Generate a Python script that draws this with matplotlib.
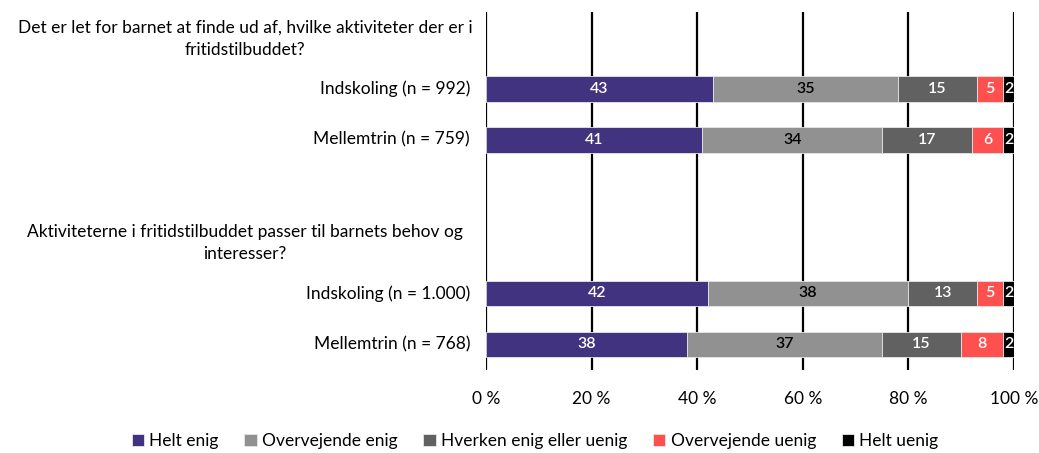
import numpy as np
import matplotlib.pyplot as plt

plt.rcParams['font.family'] = ['Lato', 'DejaVu Sans']

# questions and respondent groups
questions = ["Det er let for barnet at finde ud af, hvilke aktiviteter der er i\nfritidstilbuddet?",
             "Aktiviteterne i fritidstilbuddet passer til barnets behov og\ninteresser?"]
groups = ["Indskoling (n = 992)", "Mellemtrin (n = 759)",
          "Indskoling (n = 1.000)", "Mellemtrin (n = 768)"]

answers = ["Helt enig", "Overvejende enig", "Hverken enig eller uenig",
           "Overvejende uenig", "Helt uenig"]
helt_enig = [43, 41, 42, 38]
overvejende_enig = [35, 34, 38, 37]
hverken = [15, 17, 13, 15]
overvejende_uenig = [5, 6, 5, 8]
helt_uenig = [2, 2, 2, 2]

colors = ["#41337f", "#919191", "#616161", "#ff5050", "#000000"]
text_colors = ["white", "black", "white", "white", "white"]

series = [helt_enig, overvejende_enig, hverken, overvejende_uenig, helt_uenig]

# row slots: heading, bar, bar, blank, heading, bar, bar
bar_rows = [1, 2, 5, 6]
head_rows = [0, 4]

fig = plt.figure(figsize=(10.39, 4.53), dpi=100)
ax = fig.add_axes([0.4677, 0.1832, 0.5082, 0.7903])

left = np.zeros(len(groups))
for vals, col, tcol, name in zip(series, colors, text_colors, answers):
    vals = np.array(vals, dtype=float)
    ax.barh(bar_rows, vals, left=left, height=0.5, color=col, label=name,
            edgecolor="#e6e6e6", linewidth=0.6, zorder=3)
    for r, l, v in zip(bar_rows, left, vals):
        ax.text(l + v / 2, r, f"{v:.0f}", ha="center", va="center",
                color=tcol, fontsize=11.5, fontweight="semibold", zorder=4)
    left += vals

ax.set_xlim(0, 100)
ax.set_ylim(6.5, -0.5)
ax.set_xticks(range(0, 101, 20))
ax.set_xticklabels([f"{t} %" for t in range(0, 101, 20)], fontsize=12.5)
ax.set_yticks([])
ax.tick_params(axis="x", length=0, pad=15)
for s in ax.spines.values():
    s.set_visible(False)
ax.grid(axis="x", color="black", linewidth=1.6, zorder=0)
ax.set_axisbelow(True)

# group labels and question headings
for r, g in zip(bar_rows, groups):
    ax.text(-0.03, r, g, ha="right", va="center", fontsize=12.5,
            transform=ax.get_yaxis_transform())
for r, q in zip(head_rows, questions):
    fig.text(245 / 1039, 1 - (13 + 51.1 * (r + 0.5)) / 453, q, ha="center",
             va="center", fontsize=12.5, multialignment="center",
             linespacing=1.5)

fig.legend(loc="lower center", bbox_to_anchor=(0.515, -0.025), ncol=5,
           frameon=False, fontsize=12.5, handlelength=0.7, handleheight=0.7,
           handletextpad=0.3, columnspacing=1.5)

fig.savefig("out.png", dpi=100)
